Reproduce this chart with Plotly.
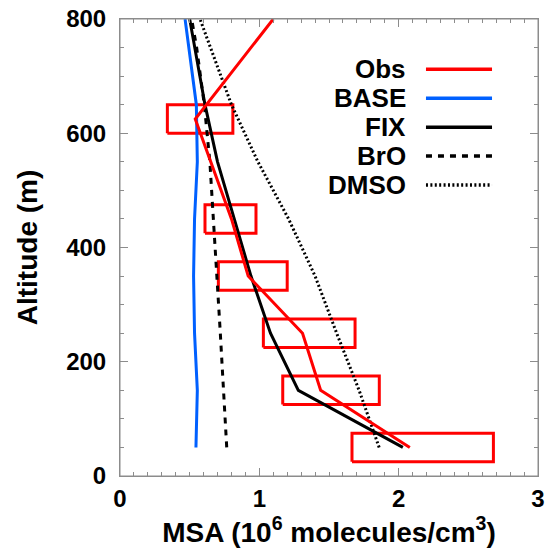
import plotly.graph_objects as go

# Observations (MSA, 10^6 molecules/cm3) and altitude (m)
obs_alt = [50, 150, 250, 350, 450, 625, 800]
obs_msa = [2.08, 1.44, 1.31, 0.92, 0.80, 0.54, 1.10]

# Observation boxes (range of values over altitude bins)
box_alt_lo = [25, 125, 225, 325, 425, 600]
box_alt_hi = [75, 175, 275, 375, 475, 650]
box_msa_lo = [1.665, 1.168, 1.029, 0.706, 0.61, 0.34]
box_msa_hi = [2.68, 1.861, 1.687, 1.200, 0.976, 0.81]

# Model profiles
model_alt = [50, 150, 250, 350, 450, 550, 650, 750, 800]
base_msa = [0.545, 0.555, 0.535, 0.528, 0.535, 0.555, 0.548, 0.495, 0.467]
fix_msa = [2.03, 1.28, 1.08, 0.94, 0.82, 0.70, 0.61, 0.54, 0.50]
bro_msa = [0.766, 0.745, 0.72, 0.695, 0.668, 0.645, 0.605, 0.55, 0.514]
dmso_msa = [1.86, 1.716, 1.555, 1.40, 1.21, 0.99, 0.80, 0.65, 0.574]

legend_names = ["Obs", "BASE", "FIX", "BrO", "DMSO"]
legend_colors = ["#ff0000", "#0060ff", "#000000", "#000000", "#000000"]
legend_dash = ["solid", "solid", "solid", "6px,6px", "2px,2.4px"]

x_ticks = [0, 1, 2, 3]
y_ticks = [0, 200, 400, 600, 800]

fig = go.Figure()

# observation boxes
for lo, hi, a0, a1 in zip(box_msa_lo, box_msa_hi, box_alt_lo, box_alt_hi):
    fig.add_trace(go.Scatter(x=[lo, hi, hi, lo, lo], y=[a0, a0, a1, a1, a0],
                             mode="lines", line=dict(color="#ff0000", width=3),
                             showlegend=False, hoverinfo="skip"))

fig.add_trace(go.Scatter(x=base_msa, y=model_alt, mode="lines",
                         line=dict(color="#0060ff", width=3), showlegend=False))
fig.add_trace(go.Scatter(x=bro_msa, y=model_alt, mode="lines",
                         line=dict(color="#000000", width=3, dash="6px,6px"), showlegend=False))
fig.add_trace(go.Scatter(x=dmso_msa, y=model_alt, mode="lines",
                         line=dict(color="#000000", width=3, dash="2px,2.4px"), showlegend=False))
fig.add_trace(go.Scatter(x=fix_msa, y=model_alt, mode="lines",
                         line=dict(color="#000000", width=3), showlegend=False))
fig.add_trace(go.Scatter(x=obs_msa, y=obs_alt, mode="lines",
                         line=dict(color="#ff0000", width=3), showlegend=False))

FAM = "Liberation Sans, Arial, sans-serif"
tick_font = dict(family=FAM, size=24, color="black", weight="bold")
title_font = dict(family=FAM, size=28, color="black", weight="bold")
legend_font = dict(family=FAM, size=26, color="black", weight="bold")

# custom legend (text then line sample)
row_y = [0.890, 0.8265, 0.763, 0.700, 0.637]
for name, col, dash, yy in zip(legend_names, legend_colors, legend_dash, row_y):
    fig.add_annotation(x=0.689, y=yy, xref="paper", yref="paper", text=name,
                       showarrow=False, xanchor="right", yanchor="middle", font=legend_font)
    fig.add_shape(type="line", xref="paper", yref="paper", x0=0.732, x1=0.890,
                  y0=yy, y1=yy, line=dict(color=col, width=3.5, dash=dash))

GRAY = "#8c8c8c"
# plot frame
fig.add_shape(type="rect", xref="paper", yref="paper", x0=0, x1=1, y0=0, y1=1,
              line=dict(color=GRAY, width=1), layer="above")

axis_common = dict(showline=True, linecolor=GRAY, linewidth=1, mirror="allticks",
                   ticks="inside", ticklen=8, tickcolor=GRAY, tickwidth=1,
                   showgrid=False, zeroline=False, tickfont=tick_font, automargin=False,
                   ticklabeloverflow="allow")

fig.update_xaxes(range=[0, 3], tickvals=x_ticks, ticktext=[str(v) for v in x_ticks],
                 minor=dict(dtick=0.1, ticks="inside", ticklen=4, tickcolor=GRAY, showgrid=False),
                 ticklabelstandoff=1,
                 title=dict(text="MSA (10<sup>6</sup> molecules/cm<sup>3</sup>)", font=title_font, standoff=7),
                 **axis_common)
fig.update_yaxes(range=[0, 800], tickvals=y_ticks, ticktext=[str(v) for v in y_ticks],
                 minor=dict(dtick=50, ticks="inside", ticklen=4, tickcolor=GRAY, showgrid=False),
                 ticklabelstandoff=8,
                 title=dict(text="Altitude (m)", font=title_font, standoff=20),
                 **axis_common)

fig.update_layout(width=546, height=550, margin=dict(l=120, r=8, t=19, b=74),
                  plot_bgcolor="white", paper_bgcolor="white")

# remove the default 8px page margin so the figure fills the window exactly
fig.write_html("out.html", config={"displayModeBar": False},
               post_script="document.body.style.margin='0';document.body.style.overflow='hidden';")
